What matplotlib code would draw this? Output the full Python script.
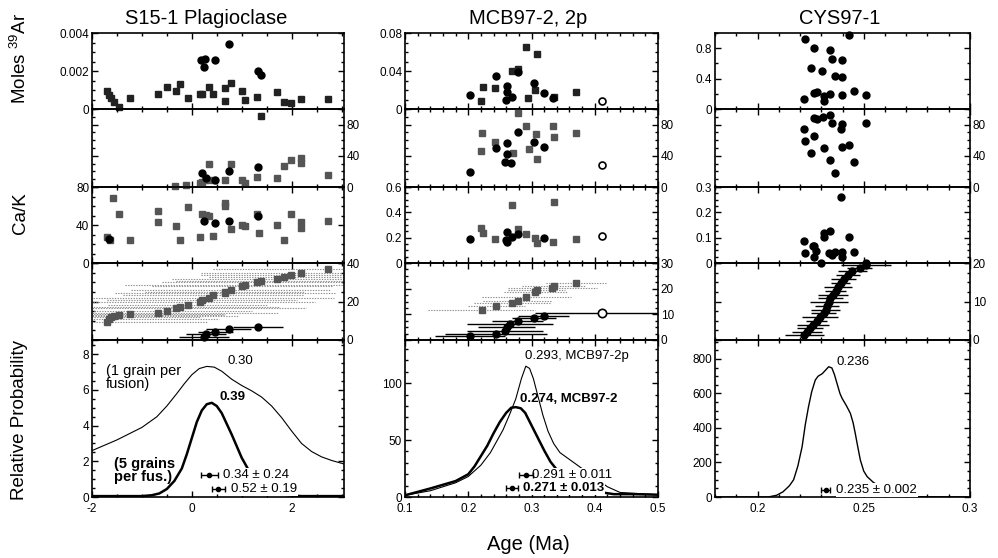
import numpy as np
import matplotlib
matplotlib.use('Agg')
import matplotlib.pyplot as plt
from matplotlib.ticker import FuncFormatter, MultipleLocator

plt.rcParams['font.family'] = ['Liberation Sans', 'DejaVu Sans']
plt.rcParams['mathtext.fontset'] = 'custom'
plt.rcParams['mathtext.rm'] = 'Liberation Sans'

# ---------------- S15-1 Plagioclase ----------------
c1_sq_age = [-1.69, -1.65, -1.61, -1.55, -1.45, -1.24, -0.67, -0.49, -0.31, -0.24, -0.07, 0.16, 0.21, 0.35,
             0.43, 0.67, 0.67, 0.78, 1.01, 1.06, 1.31, 1.39, 1.71, 1.84, 1.99, 2.19, 2.73]
c1_sq_moles = [0.00096, 0.00074, 0.00056, 0.00035, 0.00012, 0.0006, 0.00077, 0.00117, 0.00096, 0.00132, 0.0006,
               0.00077, 0.0008, 0.00117, 0.0008, 0.00112, 0.00042, 0.00139, 0.00096, 0.00047, 0.00065, -0.00037,
               0.00091, 0.00035, 0.0003, 0.00053, 0.00053]
c1_ci_age = [0.18, 0.27, 0.25, 0.47, 0.74, 1.33, 1.39]
c1_ci_moles = [0.00258, 0.00262, 0.00223, 0.00258, 0.00342, 0.0020, 0.00177]

c1_sq_age_pct = [-0.33, -0.12, 0.16, 0.21, 0.28, 0.35, 0.43, 0.67, 0.78, 1.01, 1.06, 1.31, 1.71, 1.84, 1.99, 2.19, 2.19, 2.73]
c1_sq_pct = [1, 2, 5.5, 7, 9, 29.5, 9, 9, 30, 9, 5.5, 12.4, 11, 27, 34.6, 36.8, 31, 15.4]
c1_ci_age_pct = [0.20, 0.28, 0.47, 0.74, 1.33]
c1_ci_pct = [18.4, 11, 9, 21, 26]

c1_sq_age_cak = [-1.69, -1.64, -1.57, -1.45, -1.24, -0.67, -0.67, -0.31, -0.24, -0.07, 0.16, 0.20, 0.28, 0.35,
                 0.43, 0.67, 0.67, 0.78, 1.01, 1.06, 1.31, 1.35, 1.71, 1.84, 1.99, 2.19, 2.19, 2.73]
c1_sq_cak = [27.7, 24, 68, 52, 24, 55, 43, 39, 24, 58.6, 27, 52, 50.5, 50, 28.4, 62.8, 59.5, 35.8, 39.8, 39, 52,
             32, 39.8, 24, 51.6, 43, 36.5, 44.6]
c1_ci_age_cak = [-1.66, 0.25, 0.47, 0.74, 1.33]
c1_ci_cak = [25, 44.6, 42.4, 44.6, 49.5]

c1_sq_rank = [9.5, 11, 12, 12.5, 13, 13.5, 14.2, 15.2, 16.4, 17, 18.2, 19.9, 20.8, 21.6, 23.4, 24.5, 25, 26, 28,
              28.6, 29.9, 30.6, 31.7, 32.6, 33.8, 35, 36.7]
c1_sq_err = [2.0, 2.2, 1.8, 2.5, 2.1, 1.9, 2.4, 1.7, 2.6, 2.0, 1.6, 2.3, 1.9, 2.5, 1.8, 2.2, 1.6, 2.0, 1.8, 2.4,
             1.9, 1.7, 2.1, 1.5, 1.8, 2.0, 2.3]
c1_ci_age_rank = [0.25, 0.28, 0.47, 0.74, 1.33]
c1_ci_rank = [1.7, 3.0, 4.3, 5.7, 6.9]
c1_ci_err = [0.5, 0.4, 0.35, 0.45, 0.5]

c1_thin_x = [-2.0, -1.5, -1.0, -0.7, -0.5, -0.3, -0.15, 0.0, 0.15, 0.3, 0.45, 0.6, 0.8, 1.0, 1.2, 1.4, 1.6, 1.8,
             2.0, 2.2, 2.4, 2.6, 2.8, 3.05]
c1_thin_y = [2.6, 3.2, 3.9, 4.5, 5.1, 5.8, 6.35, 6.85, 7.2, 7.32, 7.28, 7.05, 6.6, 6.25, 5.95, 5.6, 5.1, 4.45,
             3.7, 3.0, 2.55, 2.25, 2.05, 1.85]
c1_thick_x = [-2.0, -1.0, -0.8, -0.65, -0.5, -0.35, -0.2, -0.1, 0.0, 0.1, 0.2, 0.3, 0.4, 0.5, 0.6, 0.7, 0.8,
              0.9, 1.0, 1.1, 1.2, 1.4, 1.6, 1.8, 2.0, 2.2, 3.05]
c1_thick_y = [0.05, 0.05, 0.1, 0.2, 0.45, 0.9, 1.6, 2.4, 3.3, 4.2, 4.85, 5.2, 5.28, 5.1, 4.7, 4.1, 3.5, 2.85,
              2.2, 1.7, 1.2, 0.6, 0.3, 0.15, 0.08, 0.05, 0.05]
c1_means = [0.35, 0.53]
c1_mean_err = [0.17, 0.13]
c1_mean_y = [1.23, 0.45]

# ---------------- MCB97-2, 2p ----------------
c2_sq_age = [0.220, 0.223, 0.243, 0.269, 0.278, 0.292, 0.308, 0.295, 0.306, 0.336, 0.371]
c2_sq_moles = [0.0087, 0.0235, 0.0224, 0.0403, 0.0421, 0.065, 0.0576, 0.0113, 0.020, 0.013, 0.0175]
c2_ci_age = [0.203, 0.244, 0.262, 0.261, 0.259, 0.269, 0.279, 0.304, 0.319, 0.334]
c2_ci_moles = [0.0147, 0.0347, 0.0246, 0.0183, 0.0095, 0.013, 0.0393, 0.0277, 0.0165, 0.0113]

c2_sq_age_pct = [0.279, 0.222, 0.220, 0.243, 0.270, 0.292, 0.307, 0.296, 0.308, 0.334, 0.335, 0.370]
c2_sq_pct = [94.5, 68.8, 46, 58, 43, 78.6, 68, 48.3, 36, 78.6, 63.7, 69.7]
c2_ci_age_pct = [0.203, 0.244, 0.261, 0.262, 0.258, 0.268, 0.278, 0.304, 0.319]
c2_ci_pct = [19.6, 49.6, 56, 42, 32.5, 31, 70, 57.3, 51]

c2_sq_age_cak = [0.269, 0.335, 0.220, 0.223, 0.243, 0.278, 0.292, 0.306, 0.308, 0.334, 0.370]
c2_sq_cak = [0.458, 0.479, 0.279, 0.234, 0.187, 0.266, 0.226, 0.195, 0.16, 0.168, 0.187]
c2_ci_age_cak = [0.203, 0.261, 0.259, 0.262, 0.269, 0.278, 0.319]
c2_ci_cak = [0.187, 0.242, 0.182, 0.163, 0.203, 0.226, 0.195]

c2_sq_age_rank = [0.221, 0.244, 0.269, 0.278, 0.292, 0.306, 0.308, 0.333, 0.335, 0.370]
c2_sq_rank = [11.7, 13.4, 14.3, 15.3, 16.6, 18.8, 19.5, 20.1, 21.2, 22.3]
c2_sq_err = [0.085, 0.045, 0.06, 0.055, 0.07, 0.05, 0.045, 0.07, 0.05, 0.047]
c2_ci_age_rank = [0.203, 0.244, 0.258, 0.261, 0.266, 0.278, 0.304, 0.319]
c2_ci_rank = [1.6, 2.3, 3.6, 5.2, 6.2, 7.5, 8.4, 9.3]
c2_ci_err = [0.055, 0.08, 0.06, 0.045, 0.068, 0.04, 0.035, 0.04]

# open circle (2p)
c2_open_age = 0.411
c2_open_moles = 0.0084
c2_open_pct = 28.2
c2_open_cak = 0.216
c2_open_rank = 10.4
c2_open_err = 0.105

c2_thin_x = [0.10, 0.14, 0.18, 0.20, 0.22, 0.235, 0.245, 0.255, 0.265, 0.275, 0.284, 0.291, 0.297, 0.303, 0.310,
             0.318, 0.326, 0.335, 0.345, 0.355, 0.365, 0.38, 0.40, 0.42, 0.44, 0.47, 0.50]
c2_thin_y = [1.5, 5.5, 12.5, 18, 28, 39, 49, 59, 72, 86, 104, 115, 113, 104, 89, 72, 58, 47, 39, 35, 31, 25, 17,
             9, 4, 3, 2]
c2_thick_x = [0.10, 0.14, 0.18, 0.20, 0.21, 0.22, 0.23, 0.24, 0.25, 0.26, 0.268, 0.275, 0.283, 0.29, 0.30, 0.31,
              0.32, 0.33, 0.34, 0.36, 0.38, 0.40, 0.43, 0.46, 0.50]
c2_thick_y = [1.5, 7.5, 14, 20, 27, 36, 45, 56, 66, 74, 78.5, 79, 78, 74, 63, 52, 41, 31, 24, 15, 9, 5, 2.5, 2.5, 2]
c2_means = [0.291, 0.269]
c2_mean_err = [0.011, 0.009]
c2_mean_y = [19.3, 7.6]

# ---------------- CYS97-1 ----------------
c3_age = [0.2225, 0.2432, 0.2268, 0.2339, 0.2352, 0.2398, 0.2253, 0.2303, 0.2363, 0.2398, 0.2221, 0.2264, 0.228,
          0.2311, 0.2311, 0.2339, 0.2398, 0.2452, 0.2512]
c3_moles = [0.926, 0.97, 0.808, 0.778, 0.656, 0.642, 0.546, 0.494, 0.433, 0.415, 0.131, 0.206, 0.22, 0.166, 0.109,
            0.197, 0.188, 0.232, 0.188]
c3_age_pct = [0.2266, 0.228, 0.2308, 0.2339, 0.2352, 0.2398, 0.2393, 0.2512, 0.2221, 0.2268, 0.2225, 0.2311,
              0.2398, 0.2432, 0.2253, 0.2339, 0.2452, 0.2363]
c3_pct = [88, 87.6, 90, 92, 81.6, 80.4, 74.4, 81.6, 74.4, 65.8, 59.4, 49.6, 51.7, 53.8, 43.2, 34.6, 31.6, 18.4]
c3_age_cak = [0.2394, 0.2221, 0.2225, 0.2261, 0.2268, 0.2276, 0.2264, 0.2311, 0.2311, 0.2339, 0.2299, 0.2335,
              0.235, 0.2366, 0.2398, 0.2398, 0.243, 0.2452, 0.2512]
c3_cak = [0.262, 0.087, 0.038, 0.068, 0.068, 0.047, 0.022, 0.104, 0.117, 0.126, 0.0, 0.038, 0.03, 0.045, 0.045,
          0.022, 0.104, 0.043, 0.0]
c3_age_rank = [0.2220, 0.2232, 0.2248, 0.2263, 0.2278, 0.2295, 0.2311, 0.2320, 0.2327, 0.2335, 0.2343, 0.2355,
               0.2368, 0.2380, 0.2392, 0.2405, 0.2425, 0.2447, 0.2480, 0.2512]
c3_rank = [1.3, 2.2, 3.1, 4.0, 4.9, 5.9, 7.0, 7.9, 8.8, 9.8, 10.8, 11.8, 12.8, 13.8, 14.9, 15.9, 16.9, 17.9,
           18.8, 19.5]
c3_err = [0.0092, 0.007, 0.006, 0.0075, 0.005, 0.0085, 0.006, 0.007, 0.0055, 0.009, 0.006, 0.007, 0.005, 0.0065,
          0.0045, 0.006, 0.0055, 0.007, 0.006, 0.0118]
c3_prob_x = [0.18, 0.205, 0.209, 0.212, 0.215, 0.217, 0.219, 0.221, 0.2225, 0.224, 0.2255, 0.2272, 0.2285, 0.2305,
             0.232, 0.2335, 0.235, 0.2362, 0.2374, 0.2388, 0.2398, 0.2418, 0.2437, 0.245, 0.246, 0.2472, 0.2484,
             0.250, 0.2516, 0.2545, 0.2578, 0.261, 0.2641, 0.268, 0.2719, 0.3]
c3_prob_y = [0, 0, 10, 30, 65, 100, 180, 292, 420, 523, 610, 678, 700, 715, 735, 755, 748, 710, 659, 600, 572,
             530, 485, 430, 369, 290, 214, 150, 118, 85, 60, 42, 27, 10, 2, 0]
c3_mean = 0.2322
c3_mean_err = 0.0021
c3_mean_y = 41

# ---------------- layout ----------------
W, H = 998, 558
fig = plt.figure(figsize=(W / 100, H / 100), dpi=100)

cols_px = [(92, 344), (405, 658), (715, 970)]
rows_px = [(33, 109), (109, 187), (187, 263), (263, 340), (340, 497)]

xlims = [(-2, 3.05), (0.1, 0.5), (0.18, 0.3)]
xmaj = [2, 0.1, 0.05]
xmin = [0.5, 0.02, 0.01]
ylims = [
    [(0, 0.004), (0, 100), (0, 80), (0, 40), (0, 8.8)],
    [(0, 0.08), (0, 100), (0, 0.6), (0, 30), (0, 138)],
    [(0, 1.0), (0, 100), (0, 0.3), (0, 20), (0, 910)],
]
yticks = [
    [[0, 0.002, 0.004], [0, 40, 80], [0, 40, 80], [0, 20, 40], [0, 2, 4, 6, 8]],
    [[0, 0.04, 0.08], [0, 40, 80], [0, 0.2, 0.4, 0.6], [0, 10, 20, 30], [0, 50, 100]],
    [[0, 0.4, 0.8], [0, 40, 80], [0, 0.1, 0.2, 0.3], [0, 10, 20], [0, 200, 400, 600, 800]],
]
yminor = [
    [0.0005, 10, 10, 5, 0.5],
    [0.01, 10, 0.05, 2.5, 10],
    [0.2, 10, 0.025, 2.5, 50],
]

fmt = FuncFormatter(lambda v, p: '%g' % v)
axes = [[None] * 5 for _ in range(3)]
for c in range(3):
    x0, x1 = cols_px[c]
    for r in range(5):
        y0, y1 = rows_px[r]
        ax = fig.add_axes([x0 / W, 1 - y1 / H, (x1 - x0) / W, (y1 - y0) / H])
        ax.set_xlim(*xlims[c])
        ax.set_ylim(*ylims[c][r])
        ax.xaxis.set_major_locator(MultipleLocator(xmaj[c]))
        ax.xaxis.set_minor_locator(MultipleLocator(xmin[c]))
        ax.set_yticks(yticks[c][r])
        ax.yaxis.set_minor_locator(MultipleLocator(yminor[c][r]))
        ax.xaxis.set_major_formatter(fmt)
        ax.yaxis.set_major_formatter(fmt)
        ax.tick_params(which='both', direction='in', top=True, right=True, labelsize=8.5, pad=2,
                       width=1, labelbottom=(r == 4))
        ax.tick_params(axis='x', pad=4)
        ax.tick_params(which='major', length=4.5)
        ax.tick_params(which='minor', length=2.5)
        if r in (1, 3):
            ax.tick_params(labelleft=False, labelright=True)
        for s in ax.spines.values():
            s.set_linewidth(1.2)
        ax.patch.set_alpha(0)
        axes[c][r] = ax

sq_dark = '#222222'
sq_grey = '#555555'
ms = 5

def pts(ax, x, y, marker, color, size=ms):
    ax.plot(x, y, marker, color=color, ms=size, mec=color, ls='none', clip_on=False, zorder=3)

grey_err = dict(colors='0.55', linestyles=(0, (1.2, 1.2)), lw=0.8)

# column 1
a = axes[0]
pts(a[0], c1_sq_age, c1_sq_moles, 's', sq_dark)
pts(a[0], c1_ci_age, c1_ci_moles, 'o', 'black')
pts(a[1], c1_sq_age_pct, c1_sq_pct, 's', sq_grey)
pts(a[1], c1_ci_age_pct, c1_ci_pct, 'o', 'black')
pts(a[2], c1_sq_age_cak, c1_sq_cak, 's', sq_grey)
pts(a[2], c1_ci_age_cak, c1_ci_cak, 'o', 'black')
a[3].hlines(c1_sq_rank, np.array(c1_sq_age) - np.array(c1_sq_err), np.array(c1_sq_age) + np.array(c1_sq_err),
            **grey_err)
a[3].hlines(c1_ci_rank, np.array(c1_ci_age_rank) - np.array(c1_ci_err),
            np.array(c1_ci_age_rank) + np.array(c1_ci_err), colors='black', lw=1.0)
pts(a[3], c1_sq_age, c1_sq_rank, 's', sq_grey)
pts(a[3], c1_ci_age_rank, c1_ci_rank, 'o', 'black')

p = a[4]
p.plot(c1_thin_x, c1_thin_y, color='black', lw=0.8)
p.plot(c1_thick_x, c1_thick_y, color='black', lw=1.8)
p.errorbar(c1_means, c1_mean_y, xerr=c1_mean_err, fmt='o', ms=3, color='black', capsize=2.5, elinewidth=1,
           zorder=4)
tb = dict(facecolor='white', edgecolor='none', pad=0.6)
p.text(0.62, 1.23, '0.34 ± 0.24', fontsize=9.5, va='center', ha='left', bbox=tb, zorder=3)
p.text(0.78, 0.45, '0.52 ± 0.19', fontsize=9.5, va='center', ha='left', bbox=tb, zorder=3)
p.text(0.72, 7.6, '0.30', fontsize=9.5, va='center', ha='left')
p.text(0.55, 5.6, '0.39', fontsize=9.5, va='center', ha='left', fontweight='bold')
p.text(-1.72, 7.45, '(1 grain per\nfusion)', fontsize=10.5, va='top', ha='left', linespacing=0.9)
p.text(-1.55, 2.25, '(5 grains\nper fus.)', fontsize=10.5, va='top', ha='left', linespacing=0.9,
       fontweight='bold')

# column 2
a = axes[1]
pts(a[0], c2_sq_age, c2_sq_moles, 's', sq_dark)
pts(a[0], c2_ci_age, c2_ci_moles, 'o', 'black')
a[0].plot(c2_open_age, c2_open_moles, 'o', mfc='white', mec='black', ms=ms, mew=1.2)
pts(a[1], c2_sq_age_pct, c2_sq_pct, 's', sq_grey)
pts(a[1], c2_ci_age_pct, c2_ci_pct, 'o', 'black')
a[1].plot(c2_open_age, c2_open_pct, 'o', mfc='white', mec='black', ms=ms, mew=1.2)
pts(a[2], c2_sq_age_cak, c2_sq_cak, 's', sq_grey)
pts(a[2], c2_ci_age_cak, c2_ci_cak, 'o', 'black')
a[2].plot(c2_open_age, c2_open_cak, 'o', mfc='white', mec='black', ms=ms, mew=1.2)
a[3].hlines(c2_sq_rank, np.array(c2_sq_age_rank) - np.array(c2_sq_err),
            np.array(c2_sq_age_rank) + np.array(c2_sq_err), **grey_err)
a[3].hlines(c2_ci_rank, np.array(c2_ci_age_rank) - np.array(c2_ci_err),
            np.array(c2_ci_age_rank) + np.array(c2_ci_err), colors='black', lw=1.0)
a[3].hlines(c2_open_rank, c2_open_age - c2_open_err, c2_open_age + c2_open_err, colors='black', lw=1.0)
pts(a[3], c2_sq_age_rank, c2_sq_rank, 's', sq_grey)
pts(a[3], c2_ci_age_rank, c2_ci_rank, 'o', 'black')
a[3].plot(c2_open_age, c2_open_rank, 'o', mfc='white', mec='black', ms=ms + 1, mew=1.2, zorder=4)

p = a[4]
p.plot(c2_thin_x, c2_thin_y, color='black', lw=0.8)
p.plot(c2_thick_x, c2_thick_y, color='black', lw=1.8)
p.errorbar(c2_means, c2_mean_y, xerr=c2_mean_err, fmt='o', ms=3, color='black', capsize=2.5, elinewidth=1,
           zorder=4)
p.text(0.301, 19.3, '0.291 ± 0.011', fontsize=9.5, va='center', ha='left', bbox=tb, zorder=3)
p.text(0.286, 7.6, '0.271 ± 0.013', fontsize=9.5, va='center', ha='left', fontweight='bold', bbox=tb, zorder=3)
p.text(0.29, 124, '0.293, MCB97-2p', fontsize=9.5, va='center', ha='left')
p.text(0.282, 86, '0.274, MCB97-2', fontsize=9.5, va='center', ha='left', fontweight='bold')

# column 3
a = axes[2]
pts(a[0], c3_age, c3_moles, 'o', 'black')
pts(a[1], c3_age_pct, c3_pct, 'o', 'black')
pts(a[2], c3_age_cak, c3_cak, 'o', 'black')
a[3].hlines(c3_rank, np.array(c3_age_rank) - np.array(c3_err), np.array(c3_age_rank) + np.array(c3_err),
            colors='black', lw=1.0)
pts(a[3], c3_age_rank, c3_rank, 'o', 'black')

p = a[4]
p.plot(c3_prob_x, c3_prob_y, color='black', lw=1.0)
p.errorbar([c3_mean], [c3_mean_y], xerr=[c3_mean_err], fmt='o', ms=3, color='black', capsize=2.5,
           elinewidth=1, zorder=4)
p.text(0.2371, 41, '0.235 ± 0.002', fontsize=9.5, va='center', ha='left', bbox=tb, zorder=3)
p.text(0.2371, 785, '0.236', fontsize=9.5, va='center', ha='left')

# titles and axis labels
fig.text(206 / W, 1 - 18 / H, 'S15-1 Plagioclase', fontsize=14.5, ha='center', va='center')
fig.text(528 / W, 1 - 18 / H, 'MCB97-2, 2p', fontsize=14.5, ha='center', va='center')
fig.text(840 / W, 1 - 18 / H, 'CYS97-1', fontsize=14.5, ha='center', va='center')
fig.text(20 / W, 1 - 58 / H, 'Moles $^{39}$Ar', fontsize=13.5, rotation=90, ha='center', va='center')
fig.text(20 / W, 1 - 213 / H, 'Ca/K', fontsize=13.5, rotation=90, ha='center', va='center')
fig.text(20 / W, 1 - 420 / H, 'Relative Probability', fontsize=13.5, rotation=90, ha='center', va='center')
fig.text(528 / W, 1 - 545 / H, 'Age (Ma)', fontsize=14.5, ha='center', va='center')

fig.savefig('out.png', dpi=100)
